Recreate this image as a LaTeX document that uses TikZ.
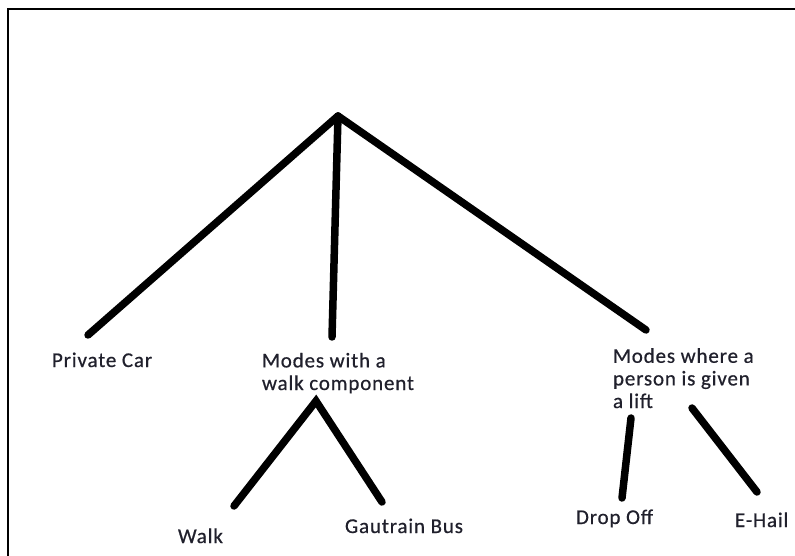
\documentclass[tikz,border=0pt]{standalone}
\usepackage{fontspec}
\setmainfont{Carlito}[LetterSpace=4,FakeBold=0.6]
\begin{document}
\begin{tikzpicture}[x=1pt,y=-1pt,
  branch/.style={line width=7.5pt,line cap=round,black},
  frameline/.style={line width=2pt,black},
  label/.style={inner sep=0pt,outer sep=0pt,anchor=base west,align=left,
    text={rgb,255:red,32;green,32;blue,44},
    font=\fontsize{21}{22.6}\selectfont}]
\useasboundingbox (0,0) rectangle (795,556);
% frame: top and left edges only
\coordinate (fTL) at (7.5,9);
\coordinate (fTR) at (800,9);
\coordinate (fBL) at (7.5,560);
\draw[frameline] (fTR) -- (fTL) -- (fBL);

% labels (base anchor sits on the last line)
\node[label] (car)  at (52,367)  {Private Car};
\node[label] (walkc) at (262,390) {Modes with a\\walk component};
\node[label] (lift) at (613,408) {Modes where a\\person is given\\a lift};
\node[label] (walk) at (178,543) {Walk};
\node[label] (bus)  at (345,533) {Gautrain Bus};
\node[label] (drop) at (576,524) {Drop Off};
\node[label] (hail) at (735,527) {E-Hail};

% branch end points
\coordinate (root) at (338,116);
\coordinate (carT) at (88,335);
\coordinate (walkcT) at (332,337);
\coordinate (liftT) at (646,330);
\coordinate (walkcB) at (316,401);
\coordinate (walkT) at (234,506);
\coordinate (busT) at (382,502);
\coordinate (liftBa) at (631,418);
\coordinate (dropT) at (622,498);
\coordinate (liftBb) at (692,408);
\coordinate (hailT) at (757,492);

% tree branches
\draw[branch] (root) -- (carT);
\draw[branch] (root) -- (walkcT);
\draw[branch] (root) -- (liftT);
\draw[branch] (walkT) -- (walkcB) -- (busT);
\draw[branch] (liftBa) -- (dropT);
\draw[branch] (liftBb) -- (hailT);
\end{tikzpicture}
\end{document}
